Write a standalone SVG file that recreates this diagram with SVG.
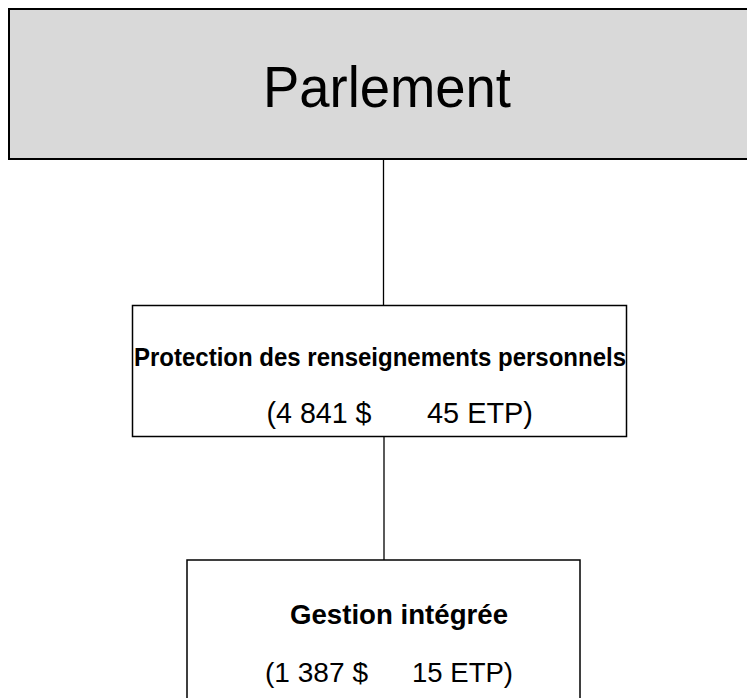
<svg xmlns="http://www.w3.org/2000/svg" width="747" height="698" viewBox="0 0 747 698">
<style>
.box{fill:#ffffff;stroke:#000000;stroke-width:1.5}
.top{fill:#d9d9d9;stroke:#000000;stroke-width:2}
.t{font-family:"Liberation Sans",Arial,sans-serif;fill:#000000}
.b{font-weight:bold}
.conn{stroke:#000000;stroke-width:1.3;fill:none}
</style>
<g id="connectors">
<line class="conn" x1="383.5" y1="160" x2="383.5" y2="306"/>
<line class="conn" x1="384" y1="437" x2="384" y2="560"/>
</g>
<g id="parlement">
<rect class="top" x="9" y="9" width="750" height="150"/>
<text class="t" x="387" y="107" font-size="57" text-anchor="middle" textLength="248" lengthAdjust="spacingAndGlyphs">Parlement</text>
</g>
<g id="protection">
<rect class="box" x="132.5" y="305.5" width="494" height="131"/>
<text class="t b" x="380" y="366" font-size="25" text-anchor="middle" textLength="492" lengthAdjust="spacingAndGlyphs">Protection des renseignements personnels</text>
<text class="t" x="266.5" y="423" font-size="29" textLength="105" lengthAdjust="spacingAndGlyphs">(4 841 $</text>
<text class="t" x="427" y="423" font-size="29" textLength="106" lengthAdjust="spacingAndGlyphs">45 ETP)</text>
</g>
<g id="gestion">
<rect class="box" x="187" y="560" width="393" height="150"/>
<text class="t b" x="399" y="624" font-size="28" text-anchor="middle" textLength="218" lengthAdjust="spacingAndGlyphs">Gestion intégrée</text>
<text class="t" x="265" y="682" font-size="28" textLength="103" lengthAdjust="spacingAndGlyphs">(1 387 $</text>
<text class="t" x="412" y="682" font-size="28" textLength="101" lengthAdjust="spacingAndGlyphs">15 ETP)</text>
</g>
</svg>
